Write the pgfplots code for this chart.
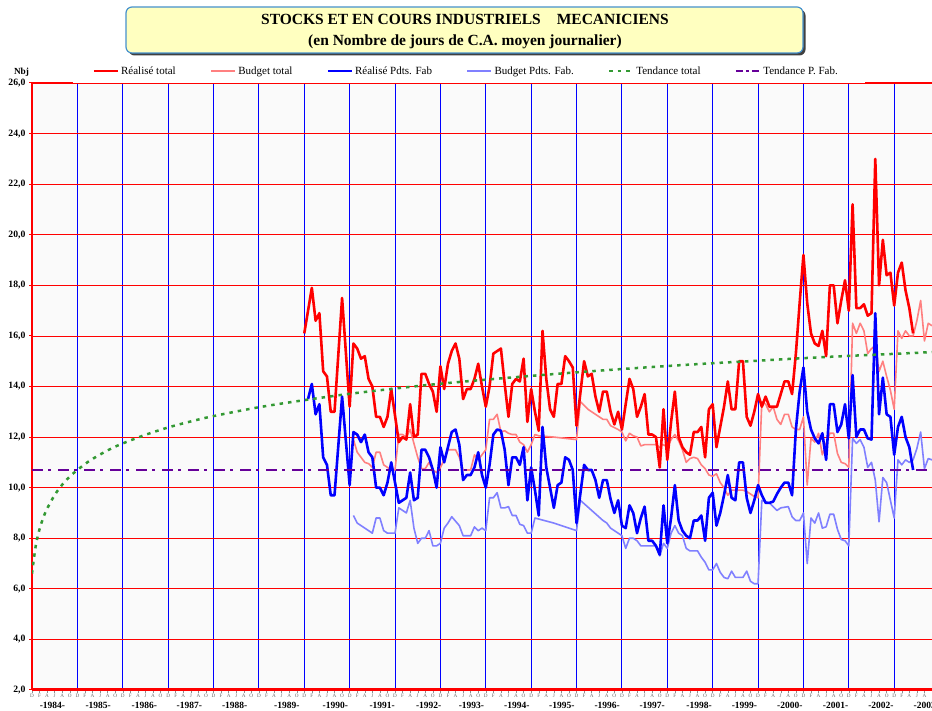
\documentclass[border=0pt]{standalone}
\usepackage{fontspec}
\setmainfont{Liberation Serif}
\usepackage{pgfplots}
\pgfplotsset{compat=1.18}
\definecolor{rtot}{RGB}{255,0,0}
\definecolor{btot}{RGB}{255,128,128}
\definecolor{rfab}{RGB}{0,0,255}
\definecolor{bfab}{RGB}{128,128,255}
\definecolor{ttot}{RGB}{51,153,51}
\definecolor{tfab}{RGB}{102,0,153}
\definecolor{titlebg}{RGB}{255,255,192}
\definecolor{titlebd}{RGB}{70,145,205}
\newcommand\yl[1]{\raisebox{-17pt}[0pt][0pt]{\fontsize{9.5}{10}\selectfont\bfseries -#1-}}
\begin{document}
\begin{tikzpicture}[x=1pt,y=1pt]
\useasboundingbox (0,0) rectangle (932,711);
% title box
\fill[black!75, rounded corners=6pt] (128.5,655.5) rectangle (805.5,701.5);
\draw[titlebd, fill=titlebg, line width=1.2pt, rounded corners=6pt] (126,658) rectangle (803,704);
\node[font=\fontsize{15.5}{16}\selectfont\bfseries, inner sep=0pt] at (465,692) {STOCKS ET EN COURS INDUSTRIELS\hspace{16pt}MECANICIENS};
\node[font=\fontsize{15.5}{16}\selectfont\bfseries, inner sep=0pt] at (465,669.5) {(en Nombre de jours de C.A. moyen journalier)};
\node[font=\fontsize{9.3}{10}\selectfont\bfseries, inner sep=0pt] at (21.5,639) {Nbj};
\begin{axis}[
  at={(32pt,21pt)}, anchor=south west,
  scale only axis, width=900pt, height=607pt,
  xmin=0, xmax=238, ymin=2, ymax=26,
  axis background/.style={fill=black!2},
  axis x line*=bottom, axis y line*=left,
  x axis line style={-, rtot, line width=3pt},
  y axis line style={-, rtot, line width=2pt},
  /pgf/number format/assume math mode=true,
  /pgf/number format/.cd, fixed, fixed zerofill, precision=1, use comma, /pgfplots/.cd,
  ytick={2,4,...,26},
  ymajorgrids=true,
  major grid style={rtot, line width=0.8pt},
  xtick={0,2,...,236},
  xticklabels={D,F,A,J,A,O,D,F,A,J,A,O,D,F,A,J,A,O,D,F,A,J,A,O,D,F,A,J,A,O,D,F,A,J,A,O,D,F,A,J,A,O,D,F,A,J,A,O,D,F,A,J,A,O,D,F,A,J,A,O,D,F,A,J,A,O,D,F,A,J,A,O,D,F,A,J,A,O,D,F,A,J,A,O,D,F,A,J,A,O,D,F,A,J,A,O,D,F,A,J,A,O,D,F,A,J,A,O,D,F,A,J,A,O,D,F,A,J,A},
  minor xtick={0,12,...,228},
  xminorgrids=true,
  minor x grid style={rfab, line width=1pt},
  minor tick length=0pt,
  tick align=outside,
  major tick length=3pt,
  xtick style={black!45, line width=0.4pt},
  ytick style={rtot, line width=1pt},
  x tick label style={font=\fontsize{5.2}{5.5}\selectfont, text=black!60, inner sep=1pt},
  y tick label style={font=\fontsize{9.7}{10}\selectfont\bfseries},
  extra x ticks={5.4,17.5,29.7,41.6,53.6,67.4,80.2,92.6,104.9,116.2,128.2,140.1,152.1,164,176.4,188.4,200.4,212.5,224.5,236.5},
  extra x tick labels={\yl{1984},\yl{1985},\yl{1986},\yl{1987},\yl{1988},\yl{1989},\yl{1990},\yl{1991},\yl{1992},\yl{1993},\yl{1994},\yl{1995},\yl{1996},\yl{1997},\yl{1998},\yl{1999},\yl{2000},\yl{2001},\yl{2002},\yl{2003}},
  extra x tick style={major tick length=0pt, x tick label style={text=black}},
  legend style={at={(0.067,1.0198)}, anchor=west, draw=none, fill=white, inner xsep=0pt, inner ysep=1pt, legend columns=-1, font=\fontsize{11}{12}\selectfont, /tikz/every even column/.append style={column sep=32pt}},
  legend image code/.code={\draw[#1] (0pt,0pt) -- (24pt,0pt);},
]
\addlegendimage{rtot, line width=2.6pt}\addlegendentry{Réalisé total}
\addlegendimage{btot, line width=2.6pt}\addlegendentry{Budget total}
\addlegendimage{rfab, line width=2.6pt}\addlegendentry{Réalisé Pdts. Fab}
\addlegendimage{bfab, line width=2.6pt}\addlegendentry{Budget Pdts. Fab.}
\addlegendimage{ttot, line width=2.5pt, dash pattern=on 3.5pt off 5pt}\addlegendentry{Tendance total}
\addlegendimage{tfab, line width=2.8pt, dash pattern=on 7pt off 3pt on 3pt off 3pt}\addlegendentry{Tendance P. Fab.}
% Budget total
\addplot[forget plot, btot, line width=1.6pt, line join=round] coordinates {
(85,11.9) (86,11.4) (88,11.0) (89,10.95) (90,10.8) (91,11.4) (92,11.4) (93,10.9) (94,10.8) (95,10.7) (96,10.7)
(97,12.1) (98,12.1) (99,12.0) (100,12.3) (101,11.75) (102,11.2) (103,10.75) (104,10.75) (105,11.0) (106,10.7) (107,10.6)
(108,10.8) (109,11.1) (110,11.5) (111,11.5) (112,11.5) (113,11.2) (114,10.7) (116,10.7) (117,11.3) (118,11.1) (119,11.3)
(120,11.5) (121,12.7) (122,12.7) (123,12.9) (124,12.2) (125,12.25) (126,12.15) (127,12.1) (128,12.1) (129,11.8) (130,11.7)
(131,11.4) (132,11.7) (133,12.1) (134,12.05) (138,12.0) (141,11.95) (144,11.9) (145,13.4) (147,13.1) (149,12.9) (151,12.7)
(152,12.7) (153,12.45) (155,12.3) (156,12.2) (157,11.85) (158,12.15) (159,12.05) (160,12.0) (161,11.65) (162,11.7) (165,11.7)
(166,11.6) (167,11.7) (168,11.6) (169,11.9) (170,12.1) (171,11.85) (172,11.5) (173,11.0) (174,11.15) (175,11.2) (176,11.15)
(177,10.9) (178,10.75) (179,10.5) (180,10.45) (181,10.55) (182,10.2) (183,10.0) (184,9.7) (185,9.9) (188,9.9) (189,9.85)
(190,9.75) (191,9.65) (192,9.6) (193,13.4) (194,13.3) (195,13.0) (196,13.2) (197,12.7) (198,12.5) (199,12.9) (200,12.9)
(201,12.4) (202,12.3) (203,12.3) (204,12.8) (205,10.1) (206,11.95) (207,11.8) (208,12.15) (209,11.3) (210,11.75) (211,12.15)
(212,12.15) (213,11.35) (214,11.0) (215,10.95) (216,10.8) (217,16.5) (218,16.1) (219,16.5) (220,16.2) (221,15.3) (222,15.5)
(223,15.6) (224,14.6) (225,15.0) (226,14.4) (227,13.85) (228,13.1) (229,16.2) (230,15.9) (231,16.2) (232,16.0) (233,16.0)
(234,16.6) (235,17.4) (236,15.8) (237,16.5) (238,16.4)};
% Budget Pdts. Fab.
\addplot[forget plot, bfab, line width=1.6pt, line join=round] coordinates {
(85,8.9) (86,8.6) (88,8.4) (90,8.2) (91,8.8) (92,8.8) (93,8.3) (94,8.2) (96,8.2) (97,9.2) (98,9.1) (99,9.0) (100,9.5)
(101,8.4) (102,7.8) (103,8.0) (104,8.0) (105,8.3) (106,7.7) (107,7.7) (108,7.8) (109,8.4) (110,8.6) (111,8.85) (113,8.5)
(114,8.1) (116,8.1) (117,8.45) (118,8.3) (119,8.4) (120,8.3) (121,9.6) (122,9.6) (123,9.8) (124,9.2) (125,9.2) (126,9.25)
(127,8.9) (128,8.9) (129,8.55) (130,8.5) (131,8.2) (132,8.2) (133,8.8) (138,8.6) (141,8.45) (144,8.3) (145,9.5) (148,9.1)
(151,8.7) (152,8.6) (153,8.4) (155,8.2) (156,8.1) (157,7.6) (158,8.0) (159,8.0) (160,7.9) (161,7.7) (165,7.7) (166,7.3)
(167,7.8) (168,7.6) (169,8.2) (170,8.5) (171,8.2) (172,8.1) (173,7.6) (174,7.5) (176,7.5) (177,7.25) (178,7.05) (179,6.75)
(180,6.75) (181,7.0) (182,6.65) (183,6.45) (184,6.4) (185,6.7) (186,6.45) (188,6.45) (189,6.7) (190,6.3) (191,6.2) (192,6.2)
(193,9.5) (195,9.4) (196,9.25) (197,9.1) (198,9.2) (200,9.25) (201,8.85) (202,8.7) (203,8.7) (204,9.0) (205,7.0) (206,8.8)
(207,8.6) (208,9.0) (209,8.4) (210,8.45) (211,8.95) (212,8.95) (213,8.35) (214,7.95) (215,7.9) (216,7.7) (217,11.95)
(218,11.75) (219,11.9) (220,11.6) (221,10.8) (222,11.0) (223,10.3) (224,8.65) (225,10.4) (226,10.2) (227,9.5) (228,8.8)
(229,11.1) (230,10.9) (231,11.1) (232,11.0) (233,11.1) (234,11.55) (235,12.2) (236,10.75) (237,11.15) (238,11.1)};
% Realise total
\addplot[forget plot, rtot, line width=2.6pt, line join=round] coordinates {
(72,16.1) (74,17.9) (75,16.6) (76,16.9) (77,14.6) (78,14.4) (79,13.0) (80,13.0) (82,17.5) (84,13.2) (85,15.7) (86,15.5)
(87,15.1) (88,15.2) (89,14.3) (90,14.0) (91,12.8) (92,12.8) (93,12.4) (94,12.8) (95,13.9) (97,11.8) (98,12.0) (99,11.9)
(100,13.3) (101,12.0) (102,12.1) (103,14.5) (104,14.5) (105,14.1) (106,13.8) (107,13.0) (108,14.8) (109,13.9) (110,14.9)
(111,15.4) (112,15.7) (113,15.1) (114,13.5) (115,13.9) (116,13.9) (117,14.3) (118,14.9) (119,14.0) (120,13.2) (121,14.0)
(122,15.3) (123,15.4) (124,15.5) (125,14.1) (126,12.8) (127,14.1) (128,14.3) (129,14.2) (130,15.1) (131,12.6) (132,13.9)
(133,13.0) (134,12.25) (135,16.2) (136,14.3) (137,13.1) (138,12.8) (139,14.1) (140,14.1) (141,15.2) (142,15.0) (143,14.75)
(144,12.45) (146,15.0) (147,14.4) (148,14.5) (149,13.6) (150,13.0) (151,13.8) (152,13.8) (153,13.0) (154,12.5) (155,13.0)
(156,12.3) (157,13.3) (158,14.3) (159,13.9) (160,12.8) (161,13.2) (162,13.7) (163,12.1) (164,12.1) (165,12.0) (166,10.8)
(167,13.1) (168,11.1) (169,12.6) (170,13.8) (171,12.0) (172,11.6) (173,11.4) (174,11.3) (175,12.2) (176,12.2) (177,12.4)
(178,11.2) (179,13.1) (180,13.3) (181,11.6) (182,12.4) (183,13.2) (184,14.2) (185,13.1) (186,13.1) (187,15.0) (188,15.0)
(189,12.8) (190,12.45) (191,13.0) (192,13.7) (193,13.2) (194,13.6) (195,13.2) (196,13.2) (197,13.2) (198,13.7) (199,14.2)
(200,14.2) (201,13.7) (202,15.3) (203,17.3) (204,19.2) (205,17.3) (206,16.1) (207,15.7) (208,15.6) (209,16.2) (210,15.2)
(211,18.0) (212,18.0) (213,16.5) (214,17.4) (215,18.2) (216,17.0) (217,21.2) (218,17.1) (219,17.1) (220,17.25) (221,16.8)
(222,16.9) (223,23.0) (224,18.0) (225,19.8) (226,18.4) (227,18.5) (228,17.2) (229,18.5) (230,18.9) (231,17.8) (232,17.1)
(233,16.1)};
% Realise Pdts Fab
\addplot[forget plot, rfab, line width=2.6pt, line join=round] coordinates {
(73,13.5) (74,14.1) (75,12.9) (76,13.3) (77,11.2) (78,10.9) (79,9.7) (80,9.7) (82,13.6) (84,10.1) (85,12.2) (86,12.1)
(87,11.8) (88,12.1) (89,11.4) (90,11.2) (91,10.0) (92,10.0) (93,9.7) (94,10.2) (95,11.0) (97,9.4) (98,9.5) (99,9.6)
(100,10.6) (101,9.5) (102,9.6) (103,11.5) (104,11.5) (105,11.2) (106,10.7) (107,10.0) (108,11.6) (109,11.0) (110,11.6)
(111,12.2) (112,12.3) (113,11.7) (114,10.3) (115,10.5) (116,10.5) (117,10.8) (118,11.4) (119,10.5) (120,10.0) (121,10.9)
(122,12.1) (123,12.3) (124,12.25) (125,11.5) (126,10.1) (127,11.2) (128,11.2) (129,10.9) (130,11.6) (131,9.5) (132,10.8)
(133,9.9) (134,8.9) (135,12.4) (136,10.8) (137,10.0) (138,9.2) (139,10.1) (140,10.2) (141,11.2) (142,11.1) (143,10.7)
(144,8.6) (146,10.9) (147,10.7) (148,10.7) (149,10.3) (150,9.6) (151,10.3) (152,10.3) (153,9.55) (154,9.0) (155,9.5)
(156,8.5) (157,8.4) (158,9.3) (159,9.0) (160,8.2) (161,8.8) (162,9.25) (163,7.9) (164,7.9) (165,7.7) (166,7.35) (167,9.3)
(168,7.8) (169,8.8) (170,10.1) (171,8.7) (172,8.3) (173,8.1) (174,8.0) (175,8.7) (176,8.7) (177,8.9) (178,7.9) (179,9.6)
(180,9.8) (181,8.5) (182,9.0) (183,9.7) (184,10.5) (185,9.6) (186,9.5) (187,11.0) (188,11.0) (189,9.6) (190,9.0) (191,9.5)
(192,10.1) (193,9.7) (194,9.4) (195,9.4) (196,9.45) (197,9.75) (198,10.0) (199,10.2) (200,10.2) (201,9.7) (202,12.3)
(203,13.8) (204,14.75) (205,13.0) (206,12.3) (207,11.95) (208,11.75) (209,12.15) (210,11.1) (211,13.3) (212,13.3)
(213,12.2) (214,12.5) (215,13.3) (216,11.95) (217,14.45) (218,12.0) (219,12.3) (220,12.3) (221,11.95) (222,11.9)
(223,16.9) (224,12.9) (225,14.35) (226,12.9) (227,12.8) (228,11.3) (229,12.4) (230,12.8) (231,12.0) (232,11.6) (233,10.7)};
% Tendance total
\addplot[forget plot, ttot, line width=2.5pt, dash pattern=on 3.5pt off 5pt, smooth] coordinates {
(0,6.60) (1,7.71) (2,8.36) (3,8.82) (4,9.17) (6,9.71) (8,10.12) (10,10.44) (12,10.70) (15,11.04) (18,11.31) (21,11.55)
(24,11.75) (30,12.09) (36,12.38) (42,12.62) (48,12.83) (60,13.18) (72,13.46) (84,13.71) (96,13.92) (108,14.11) (120,14.27)
(132,14.42) (144,14.56) (156,14.69) (168,14.81) (180,14.92) (192,15.02) (204,15.12) (216,15.21) (228,15.29) (238,15.36)};
% Tendance P. Fab.
\addplot[forget plot, tfab, line width=2.8pt, dash pattern=on 11pt off 5pt on 3pt off 7pt] coordinates {
(0,10.7) (238,10.7)};
\end{axis}
\draw[rtot, line width=1.5pt] (32,628) -- (72.7,628);
\draw[rtot, line width=1.5pt] (865,628) -- (932,628);
\end{tikzpicture}
\end{document}
